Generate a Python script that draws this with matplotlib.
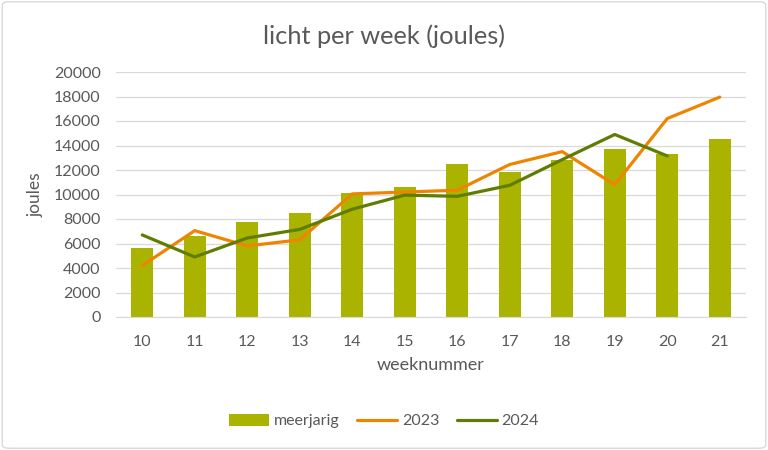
import matplotlib
matplotlib.use("Agg")
import matplotlib.pyplot as plt
from matplotlib.patches import FancyBboxPatch

weeks = ["10", "11", "12", "13", "14", "15", "16", "17", "18", "19", "20", "21"]
meerjarig = [5600, 6600, 7750, 8450, 10150, 10600, 12500, 11800, 12800, 13700, 13300, 14550]
y2023 = [4200, 7050, 5800, 6300, 10050, 10200, 10350, 12450, 13500, 10800, 16200, 17950]
y2024 = [6700, 4900, 6450, 7150, 8800, 9950, 9850, 10750, 12850, 14900, 13150]

plt.rcParams['font.family'] = ['Lato', 'DejaVu Sans']
txt = '#595959'

fig = plt.figure(figsize=(7.68, 4.5), dpi=100)
ax = fig.add_axes([116/768, 1-317/450, 630/768, 245/450])

x = list(range(len(weeks)))
b = ax.bar(x, meerjarig, width=0.42, color='#AAB400', label='meerjarig', zorder=2)
l1, = ax.plot(x, y2023, color='#EE8500', lw=2.3, label='2023', zorder=3, solid_capstyle='round')
l2, = ax.plot(x[:len(y2024)], y2024, color='#5F7D00', lw=2.3, label='2024', zorder=4, solid_capstyle='round')

ax.set_xlim(-0.5, len(weeks)-0.5)
ax.set_ylim(0, 20000)
ax.set_yticks(range(0, 20001, 2000))
ax.set_xticks(x)
ax.set_xticklabels(weeks)
ax.grid(axis='y', color='#D9D9D9', lw=0.9, zorder=0)
ax.set_axisbelow(True)
for s in ['top', 'right', 'left']:
    ax.spines[s].set_visible(False)
ax.spines['bottom'].set_color('#D9D9D9')
ax.tick_params(axis='y', length=0, labelsize=11.5, colors=txt, pad=11)
ax.tick_params(axis='x', length=0, labelsize=11.5, colors=txt, pad=13)

ax.set_ylabel('joules', fontsize=12.5, color=txt, labelpad=7)
ax.set_xlabel('weeknummer', fontsize=13, color=txt, labelpad=6)
fig.text(0.5, 1-36/450, 'licht per week (joules)', ha='center', va='center', fontsize=18.3, color=txt)

leg = fig.legend([b, l1, l2], ['meerjarig', '2023', '2024'], loc='center',
                 bbox_to_anchor=(0.5, 1-421/450), ncol=3, frameon=False,
                 fontsize=11.5, handlelength=2.5, handleheight=0.8, columnspacing=1.1,
                 handletextpad=0.3)
for t in leg.get_texts():
    t.set_color(txt)

border = FancyBboxPatch((0.003, 0.004), 0.994, 0.992, boxstyle='round,pad=0,rounding_size=0.008',
                        transform=fig.transFigure, fill=False, edgecolor='#D9D9D9', lw=1)
fig.patches.append(border)

fig.savefig('out.png', dpi=100)
